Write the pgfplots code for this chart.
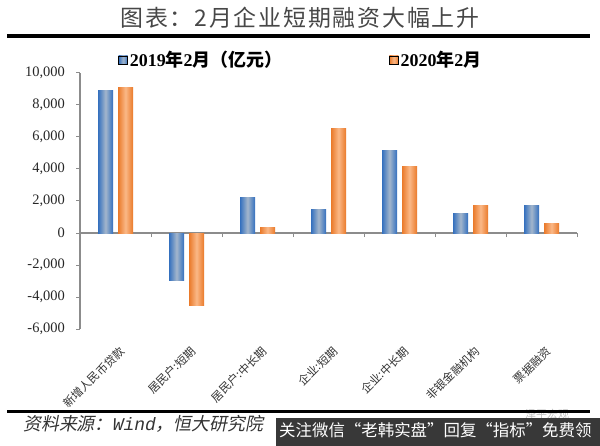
\documentclass[border=0pt]{standalone}
\usepackage{pgfplots}
\pgfplotsset{compat=1.18}
\usepackage{fontspec}
\setmainfont{Liberation Serif}
\setmonofont{Liberation Mono}
\newfontfamily\cjk{Noto Sans CJK SC}
\newfontfamily\cjkit[FakeSlant=0.2]{Noto Sans CJK SC}
\newfontfamily\cjktitle[LetterSpace=8]{Noto Sans CJK SC}
\definecolor{b1}{HTML}{3470BE}
\definecolor{b2}{HTML}{A3B6CC}
\definecolor{o1}{HTML}{EA7A2A}
\definecolor{o2}{HTML}{FAB887}
\definecolor{axgray}{HTML}{8C8C8C}
\definecolor{wm}{HTML}{383838}
\pgfplotsset{
  bshade/.style={left color=b1, right color=b1, middle color=b2},
  oshade/.style={left color=o1, right color=o1, middle color=o2},
  bl/.style={ybar, bar width=15bp, bar shift=-10bp, draw=none, bshade, forget plot},
  or/.style={ybar, bar width=15bp, bar shift=10bp, draw=none, oshade, forget plot},
}
\begin{document}
\begin{tikzpicture}[x=1bp,y=1bp]
\useasboundingbox (0,0) rectangle (600,446);
\node[font=\cjktitle\fontsize{23}{26}\selectfont, text=black!72] at (300,428) {图表：2月企业短期融资大幅上升};
\draw[line width=3.5bp] (7,410) -- (590,410);
\begin{axis}[
  at={(80bp,116.7bp)}, anchor=south west,
  scale only axis, width=497bp, height=256.6bp,
  xmin=-0.5, xmax=6.5, ymin=-6000, ymax=10000,
  axis y line*=left, axis x line*=middle,
  hide obscured x ticks=false, hide obscured y ticks=false,
  axis line style={axgray, line width=1.3bp},
  tick style={axgray, line width=1bp},
  major tick length=4bp, tick align=outside,
  ytick={-6000,-4000,...,10000},
  scaled y ticks=false,
  /pgf/number format/1000 sep={,},
  /pgf/number format/assume math mode=true,
  yticklabel style={font=\fontsize{14.5}{16}\selectfont, text=black!85, anchor=east, inner sep=0pt, xshift=-11bp},
  xtick={0.5,1.5,...,6.5}, xticklabels={},
  extra x ticks={0,1,2,3,4,5,6},
  extra x tick labels={新增人民币贷款,居民户:短期,居民户:中长期,企业:短期,企业:中长期,非银金融机构,票据融资},
  extra x tick style={major tick length=0pt},
  xticklabel style={font=\cjk\fontsize{11.5}{12}\selectfont, text=black!80, inner sep=0pt, anchor=north east, yshift=-112bp, xshift=3bp, rotate=45},
  legend columns=2,
  legend image code/.code={\fill[#1] (0bp,-4bp) rectangle (9bp,4bp);},
  legend style={draw=none, fill=none, at={(0.077,1.0495)}, anchor=west, inner sep=0pt,
    font=\fontsize{18}{20}\selectfont\bfseries,
    /tikz/every even column/.append style={column sep=105bp}},
  legend cell align=left,
  clip=false,
]
\addlegendimage{bshade}
\addlegendentry{2019{\cjk 年}2{\cjk 月（亿元）}}
\addlegendimage{oshade}
\addlegendentry{2020{\cjk 年}2{\cjk 月}}
% 2019年2月
\addplot[bl] coordinates {(0,8880)};
\addplot[bl] coordinates {(1,-2950)};
\addplot[bl] coordinates {(2,2240)};
\addplot[bl] coordinates {(3,1500)};
\addplot[bl] coordinates {(4,5130)};
\addplot[bl] coordinates {(5,1220)};
\addplot[bl] coordinates {(6,1710)};
% 2020年2月
\addplot[or] coordinates {(0,9057)};
\addplot[or] coordinates {(1,-4500)};
\addplot[or] coordinates {(2,362)};
\addplot[or] coordinates {(3,6510)};
\addplot[or] coordinates {(4,4170)};
\addplot[or] coordinates {(5,1750)};
\addplot[or] coordinates {(6,620)};
\end{axis}
\node[anchor=west, inner sep=0pt, text=black!25, font=\cjk\fontsize{11}{12}\selectfont] at (525,32) {泽平宏观};
\draw[line width=3.5bp] (7,34.3) -- (590,34.3);
\node[anchor=west, text=black!80, inner sep=0pt] at (23,22) {\cjkit\fontsize{18}{20}\selectfont 资料来源：{\ttfamily\itshape Wind}，恒大研究院};
\fill[wm] (276,0) rectangle (600,28);
\node[anchor=west, inner sep=0pt, text=white] at (279,15.5) {\cjk\fontsize{16.5}{18}\selectfont 关注微信“老韩实盘”回复“指标”免费领};
\end{tikzpicture}
\end{document}
